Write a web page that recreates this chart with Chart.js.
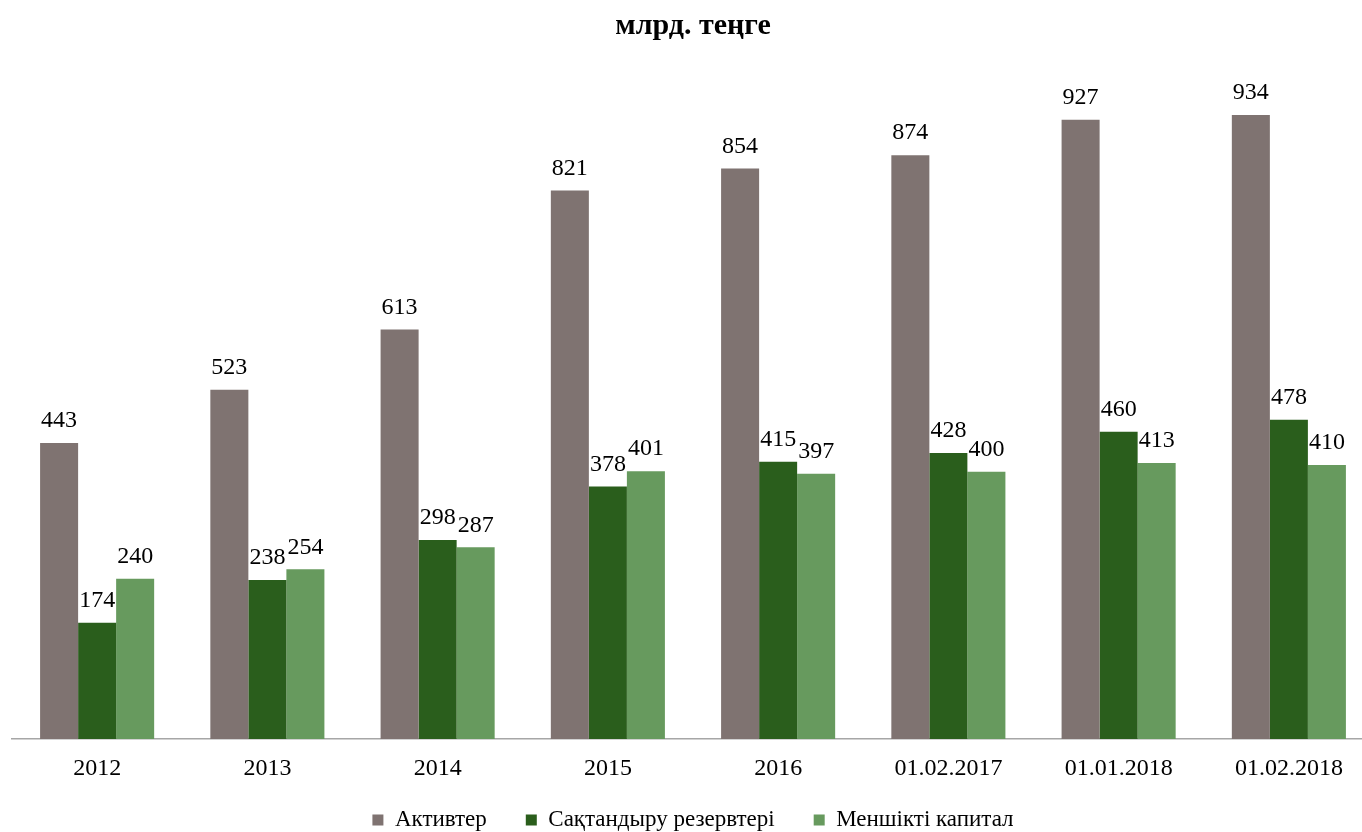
<!DOCTYPE html>
<html>
<head>
<meta charset="utf-8">
<script src="https://cdn.jsdelivr.net/npm/chart.js@4/dist/chart.umd.min.js"></script>
<style>
    html, body { margin: 0; padding: 0; background: #fff; overflow: hidden; }
    #wrap { width: 1374px; height: 832px; }
</style>
</head>
<body>
<div id="wrap"><canvas id="insChart"></canvas></div>
<script>
const categories = ['2012', '2013', '2014', '2015', '2016', '01.02.2017', '01.01.2018', '01.02.2018'];
const assets = [443, 523, 613, 821, 854, 874, 927, 934];
const reserves = [174, 238, 298, 378, 415, 428, 460, 478];
const equity = [240, 254, 287, 401, 397, 400, 413, 410];

const serif = "'Liberation Serif', 'Times New Roman', serif";

// value labels above each bar
const valueLabels = {
    id: 'valueLabels',
    afterDatasetsDraw(chart) {
        const ctx = chart.ctx;
        ctx.save();
        ctx.font = '24px ' + serif;
        ctx.fillStyle = '#000';
        ctx.textAlign = 'center';
        ctx.textBaseline = 'middle';
        chart.data.datasets.forEach((ds, i) => {
            chart.getDatasetMeta(i).data.forEach((bar, j) => {
                ctx.fillText(ds.data[j], bar.x, bar.y - 22);
            });
        });
        ctx.restore();
    }
};

// legend: fixed height, top pulled up a little (its padding is also the item gap)
const legendPlace = {
    id: 'legendPlace',
    beforeInit(chart) {
        const fit = chart.legend.fit;
        chart.legend.fit = function() {
            fit.call(this);
            this.height = 53;
        };
    },
    afterLayout(chart) {
        chart.legend.top -= 9.5;
        chart.legend.height += 9.5;
    }
};

const ctx = document.getElementById('insChart').getContext('2d');
const chart = new Chart(ctx, {
    type: 'bar',
    data: {
        labels: categories,
        datasets: [
            { label: 'Активтер', data: assets, backgroundColor: '#7f7371' },
            { label: 'Сақтандыру резервтері', data: reserves, backgroundColor: '#2a5e1c' },
            { label: 'Меншікті капитал', data: equity, backgroundColor: '#679a5e' }
        ]
    },
    options: {
        responsive: true,
        maintainAspectRatio: false,
        animation: false,
        layout: { padding: { left: 12, right: 0, top: 0, bottom: 0 } },
        datasets: {
            bar: { categoryPercentage: 0.67, barPercentage: 1.0 }
        },
        plugins: {
            title: {
                display: true,
                text: 'млрд. теңге',
                color: '#000',
                font: { family: serif, size: 30, weight: 'bold' },
                padding: { top: 8, bottom: 27 }
            },
            legend: {
                position: 'bottom',
                labels: {
                    color: '#000',
                    font: { family: serif, size: 23 },
                    boxWidth: 11,
                    boxHeight: 11,
                    padding: 39
                }
            },
            tooltip: { enabled: false }
        },
        scales: {
            x: {
                grid: { display: false, drawTicks: false },
                border: { display: true, color: '#a6a6a6', width: 1.5 },
                ticks: {
                    color: '#000',
                    font: { family: serif, size: 24 },
                    padding: 15,
                    maxRotation: 0
                },
                afterFit(scale) {
                    scale.height = 40;
                }
            },
            y: {
                display: false,
                min: 0,
                max: 1000
            }
        }
    },
    plugins: [valueLabels, legendPlace]
});
</script>
</body>
</html>
